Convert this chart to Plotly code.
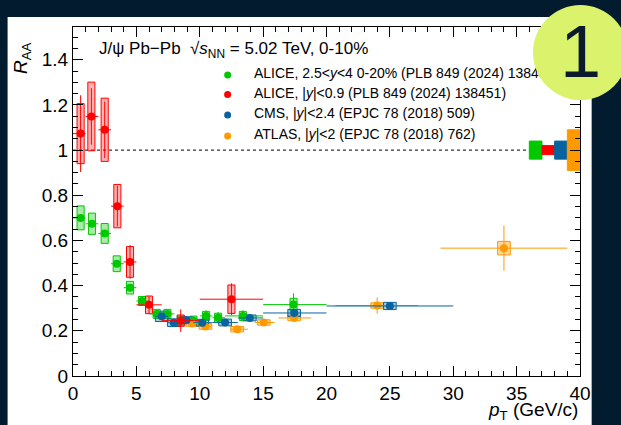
import plotly.graph_objects as go

# ---------------- data ----------------
# ALICE, 2.5<y<4, 0-20%
alice_fwd_pt = [0.6, 1.5, 2.5, 3.45, 4.5, 5.45, 6.6, 7.45, 8.5, 9.5, 10.5, 11.45, 13.4, 17.4]
alice_fwd_lo = [0, 1, 2, 3, 4, 5, 6, 7, 8, 9, 10, 11, 12, 15]
alice_fwd_hi = [1, 2, 3, 4, 5, 6, 7, 8, 9, 10, 11, 12, 15, 20]
alice_fwd_raa = [0.700, 0.674, 0.631, 0.497, 0.391, 0.332, 0.275, 0.275, 0.245, 0.245, 0.266, 0.258, 0.266, 0.316]
alice_fwd_stat = [0.015, 0.015, 0.015, 0.015, 0.012, 0.012, 0.012, 0.012, 0.015, 0.018, 0.025, 0.025, 0.025, 0.050]
alice_fwd_syst = [0.053, 0.047, 0.044, 0.035, 0.028, 0.020, 0.020, 0.020, 0.020, 0.020, 0.020, 0.020, 0.020, 0.028]

# ALICE, |y|<0.9
alice_mid_pt = [0.6, 1.45, 2.5, 3.5, 4.5, 6.0, 8.5, 12.5]
alice_mid_lo = [0, 1, 2, 3, 4, 5, 7, 10]
alice_mid_hi = [1, 2, 3, 4, 5, 7, 10, 15]
alice_mid_raa = [1.073, 1.149, 1.090, 0.752, 0.505, 0.315, 0.245, 0.340]
alice_mid_stat = [0.170, 0.125, 0.125, 0.090, 0.075, 0.040, 0.050, 0.070]
alice_mid_syst = [0.133, 0.152, 0.140, 0.096, 0.068, 0.039, 0.025, 0.063]

# CMS, |y|<2.4
cms_pt = [7.0, 7.95, 8.95, 10.2, 12.0, 13.95, 17.45, 25.0]
cms_lo = [6.5, 7.5, 8.5, 9.5, 11, 13, 15, 20]
cms_hi = [7.5, 8.5, 9.5, 11, 13, 15, 20, 30]
cms_raa = [0.264, 0.236, 0.247, 0.236, 0.237, 0.257, 0.279, 0.310]
cms_stat = [0.010, 0.008, 0.008, 0.008, 0.008, 0.008, 0.010, 0.012]
cms_syst = [0.023, 0.017, 0.015, 0.015, 0.015, 0.013, 0.016, 0.016]

# ATLAS, |y|<2
atlas_pt = [9.4, 10.45, 12.95, 15.05, 17.45, 24.0, 34.0]
atlas_lo = [8.9, 9.95, 12.4, 14.35, 16.2, 20.7, 29.0]
atlas_hi = [9.9, 10.95, 13.8, 15.9, 18.8, 27.2, 39.0]
atlas_raa = [0.232, 0.219, 0.207, 0.237, 0.257, 0.312, 0.566]
atlas_stat = [0.010, 0.010, 0.010, 0.010, 0.012, 0.036, 0.100]
atlas_syst = [0.012, 0.012, 0.012, 0.012, 0.012, 0.012, 0.030]

# global (correlated) uncertainties: ALICE fwd, ALICE mid, CMS, ATLAS
global_unc = [0.04, 0.02, 0.04, 0.09]

legend_labels = [
    "ALICE, 2.5&lt;<i>y</i>&lt;4 0-20% (PLB 849 (2024) 138451)",
    "ALICE, |<i>y</i>|&lt;0.9 (PLB 849 (2024) 138451)",
    "CMS, |<i>y</i>|&lt;2.4 (EPJC 78 (2018) 509)",
    "ATLAS, |<i>y</i>|&lt;2 (EPJC 78 (2018) 762)",
]

# ---------------- styling ----------------
FONT = "Liberation Sans, Arial, Helvetica, sans-serif"
BG = "#031b2e"
series = [
    dict(pt=alice_fwd_pt, lo=alice_fwd_lo, hi=alice_fwd_hi, y=alice_fwd_raa, stat=alice_fwd_stat,
         syst=alice_fwd_syst, color="#00c800", fill="rgba(0,200,0,0.35)", hw=0.28),
    dict(pt=atlas_pt, lo=atlas_lo, hi=atlas_hi, y=atlas_raa, stat=atlas_stat,
         syst=atlas_syst, color="#ff9900", fill="rgba(255,153,0,0.4)", hw=0.5),
    dict(pt=cms_pt, lo=cms_lo, hi=cms_hi, y=cms_raa, stat=cms_stat,
         syst=cms_syst, color="#08649e", fill="rgba(8,100,158,0.35)", hw=0.5),
    dict(pt=alice_mid_pt, lo=alice_mid_lo, hi=alice_mid_hi, y=alice_mid_raa, stat=alice_mid_stat,
         syst=alice_mid_syst, color="#ff0000", fill="rgba(255,0,0,0.3)", hw=0.28),
]
legend_colors = ["#00c800", "#ff0000", "#08649e", "#ff9900"]
global_colors = ["#00c800", "#ff0000", "#08649e", "#ff9900"]

XR = [0, 40]
YR = [0, 1.545]

fig = go.Figure()
shapes = []

# reference line at R_AA = 1
shapes.append(dict(type="line", xref="x", yref="y", x0=XR[0], x1=XR[1], y0=1, y1=1,
                   line=dict(color="black", width=1, dash="dot"), layer="below"))

for s in series:
    for xv, yv, sv in zip(s["pt"], s["y"], s["syst"]):
        shapes.append(dict(type="rect", xref="x", yref="y",
                           x0=xv - s["hw"], x1=xv + s["hw"], y0=yv - sv, y1=yv + sv,
                           fillcolor=s["fill"], line=dict(color=s["color"], width=1), layer="below"))
    fig.add_trace(go.Scatter(
        x=s["pt"], y=s["y"], mode="markers",
        marker=dict(color=s["color"], size=8, symbol="circle"),
        error_x=dict(type="data", symmetric=False,
                     array=[h - p for h, p in zip(s["hi"], s["pt"])],
                     arrayminus=[p - l for p, l in zip(s["pt"], s["lo"])],
                     color=s["color"], thickness=1, width=0),
        error_y=dict(type="data", array=s["stat"], color=s["color"], thickness=1, width=0),
        showlegend=False, hoverinfo="skip"))

# global uncertainty boxes at the right edge (one unit wide each, ending at the axis end)
n = len(global_unc)
for i, (g, c) in enumerate(zip(global_unc, global_colors)):
    x0 = XR[1] - (n - i)
    shapes.append(dict(type="rect", xref="x", yref="y", x0=x0, x1=x0 + 1, y0=1 - g, y1=1 + g,
                       fillcolor=c, line=dict(color=c, width=1), layer="below"))

# white panel
shapes.insert(0, dict(type="rect", xref="paper", yref="paper", x0=-0.129, x1=1.023, y0=-0.3, y1=1.0287,
                      fillcolor="white", line=dict(width=0), layer="below"))
# badge circle
shapes.append(dict(type="circle", xref="paper", yref="paper", x0=0.9073, x1=1.0947, y0=0.7908, y1=1.063,
                   fillcolor="#daf26c", line=dict(width=0), layer="above"))

# legend drawn on an overlay axis spanning [0,1]
leg_y = [0.8625, 0.8066, 0.7479, 0.6877]
fig.add_trace(go.Scatter(x=[0.305] * 4, y=leg_y, xaxis="x2", yaxis="y2", mode="markers",
                         marker=dict(color=legend_colors, size=7), showlegend=False, hoverinfo="skip"))
fig.add_trace(go.Scatter(x=[0.357] * 4, y=leg_y, xaxis="x2", yaxis="y2", mode="text",
                         text=legend_labels, textposition="middle right",
                         textfont=dict(family=FONT, size=14, color="black"),
                         showlegend=False, hoverinfo="skip", cliponaxis=False))

annotations = [
    dict(xref="paper", yref="paper", x=0.0465, y=0.934, xanchor="left", yanchor="middle", showarrow=False,
         text="J/\u03c8 Pb\u2212Pb  \u221a<i>s</i><sub>NN</sub> = 5.02 TeV, 0-10%",
         font=dict(family=FONT, size=17, color="black")),
    dict(xref="paper", yref="paper", x=1.0, y=-0.14, xanchor="right", yanchor="bottom", showarrow=False,
         text="<i>p</i><sub>T</sub> (GeV/c)", font=dict(family=FONT, size=19, color="black")),
    dict(xref="paper", yref="paper", x=-0.101, y=0.962, xanchor="center", yanchor="top", showarrow=False,
         textangle=-90, text="<i>R</i><sub>AA</sub>", font=dict(family=FONT, size=19, color="black")),
    dict(xref="paper", yref="paper", x=1.001, y=0.930, xanchor="center", yanchor="middle", showarrow=False,
         text="1", font=dict(family=FONT, size=74, color="#0b1b2b")),
]

axis_common = dict(showline=True, linecolor="black", linewidth=1, mirror="allticks",
                   ticks="inside", ticklen=10, tickwidth=1, tickcolor="black",
                   showgrid=False, zeroline=False,
                   tickfont=dict(family=FONT, size=19, color="black"))

fig.update_layout(
    width=621, height=425,
    margin=dict(l=73, r=41, t=27, b=49),
    paper_bgcolor=BG, plot_bgcolor="white",
    font=dict(family=FONT, color="black"),
    showlegend=False,
    xaxis=dict(range=XR, tick0=0, dtick=5,
               minor=dict(ticks="inside", ticklen=5, dtick=1, tickcolor="black", showgrid=False),
               **axis_common),
    yaxis=dict(range=YR, tick0=0, dtick=0.2,
               minor=dict(ticks="inside", ticklen=5, dtick=0.05, tickcolor="black", showgrid=False),
               **axis_common),
    xaxis2=dict(overlaying="x", range=[0, 1], visible=False),
    yaxis2=dict(overlaying="y", range=[0, 1], visible=False),
    shapes=shapes,
    annotations=annotations,
)

fig.write_html("out.html")
